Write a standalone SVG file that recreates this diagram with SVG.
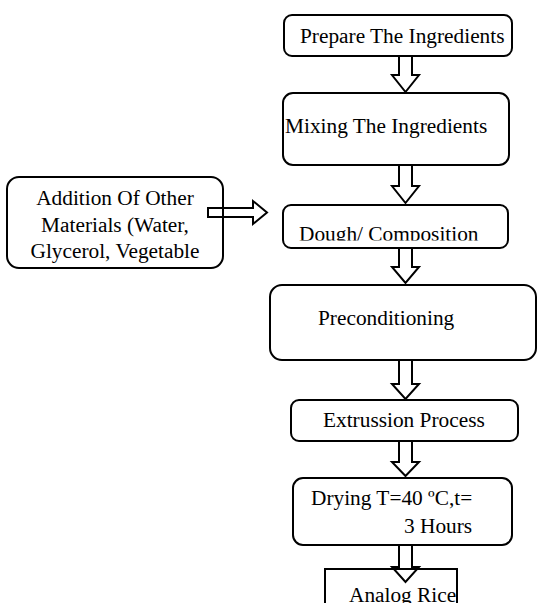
<svg xmlns="http://www.w3.org/2000/svg" width="538" height="603" viewBox="0 0 538 603">
<style>
.box{fill:#fff;stroke:#000;stroke-width:2}
.box2{fill:none;stroke:#000;stroke-width:2}
.arr{fill:#fff;stroke:#000;stroke-width:2;stroke-linejoin:miter}
text{font-family:"Liberation Serif","Times New Roman",serif;font-size:21.33px;fill:#000}
</style>
<defs>
<clipPath id="clipDough"><rect x="283" y="205" width="225" height="35.5"/></clipPath>
</defs>
<rect width="538" height="603" fill="#fff"/>
<g id="connectors">
<path class="arr" d="M399,56 V75 H392 L405.5,92 L419,75 H412 V56"/>
<path class="arr" d="M399,165 V186 H392 L405.5,203 L419,186 H412 V165"/>
<path class="arr" d="M399,248 V267 H392 L405.5,283 L419,267 H412 V248"/>
<path class="arr" d="M399,360 V384 H392 L405.5,399 L419,384 H412 V360"/>
<path class="arr" d="M399,441 V462 H392 L405.5,476 L419,462 H412 V441"/>
<path class="arr" d="M399,545 V567 H392 L405.5,582 L419,567 H412 V545"/>
<path class="arr" d="M208,208 H253 V201 L267,212.5 L253,224 V217 H208 Z"/>
</g>
<g id="prepare">
<rect class="box" x="284" y="15" width="228" height="41" rx="8"/>
<text x="300" y="43">Prepare The Ingredients</text>
</g>
<g id="mixing">
<rect class="box" x="283" y="93" width="226" height="72" rx="10"/>
<text x="285" y="133">Mixing The Ingredients</text>
</g>
<g id="addition">
<rect class="box2" x="7" y="177" width="216" height="91" rx="12"/>
<text x="115" y="205" text-anchor="middle">Addition Of Other</text>
<text x="115" y="232" text-anchor="middle">Materials (Water,</text>
<text x="115" y="258" text-anchor="middle">Glycerol, Vegetable</text>
</g>
<g id="dough">
<rect class="box" x="283" y="205" width="225" height="43" rx="8"/>
<text x="299" y="241" clip-path="url(#clipDough)">Dough/ Composition</text>
</g>
<g id="preconditioning">
<rect class="box" x="270" y="285" width="266" height="75" rx="12"/>
<text x="318" y="325">Preconditioning</text>
</g>
<g id="extrusion">
<rect class="box" x="291" y="400" width="227" height="41" rx="8"/>
<text x="323" y="427">Extrussion Process</text>
</g>
<g id="drying">
<rect class="box" x="293" y="478" width="219" height="67" rx="10"/>
<text x="311" y="505">Drying T=40 ºC,t=</text>
<text x="404" y="533">3 Hours</text>
</g>
<g id="analog">
<rect class="box2" x="325" y="569" width="132" height="50"/>
<text x="349" y="602">Analog Rice</text>
</g>
</svg>
